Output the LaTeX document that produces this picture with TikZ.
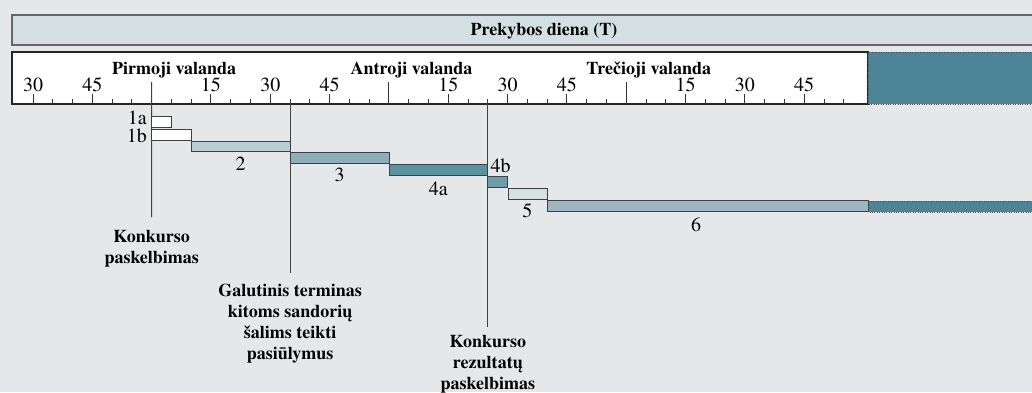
\documentclass[tikz,border=0pt]{standalone}
\usepackage{fontspec}
\setmainfont{texgyretermes}[Extension=.otf, UprightFont=*-regular, BoldFont=*-bold]
\newfontfamily\headfont{texgyretermes-bold.otf}
\usepackage{tikz}
\usetikzlibrary{positioning}

\definecolor{bggray}{HTML}{E6E7E9}
\definecolor{dayfill}{HTML}{D4DFE4}
\definecolor{tealdark}{HTML}{4B8597}
\definecolor{ctwo}{HTML}{B9CDD4}
\definecolor{cthree}{HTML}{8CAEB8}
\definecolor{cfoura}{HTML}{5B929F}
\definecolor{cfourb}{HTML}{6C9DAA}
\definecolor{cfive}{HTML}{D6E1E5}
\definecolor{csix}{HTML}{9EB6C1}

\begin{document}
\begin{tikzpicture}[x=1pt, y=-1pt,
  box/.style = {draw=black!85, line width=1.1pt},
  bar/.style = {draw=black!75, line width=1pt},
  ext/.style = {draw=black!70, dotted, fill=tealdark},
  tick/.style = {draw=black!80, line width=1pt},
  event/.style = {draw=black!75, line width=1pt},
  num/.style = {font=\fontsize{20}{24}\selectfont, inner sep=0pt, anchor=base},
  hour/.style = {font=\headfont\fontsize{18}{21}\selectfont, inner sep=0pt, anchor=base},
  note/.style = {font=\headfont\fontsize{18}{21}\selectfont, inner sep=0pt, anchor=north, align=center}]
\useasboundingbox[fill=bggray] (0,0) rectangle (1032,392);

% trading day band
\draw[fill=dayfill, draw=black!60, line width=1.3pt] (1040,15) -- (12,15) -- (12,45) -- (1040,45);
\node[hour] (day) at (544,35.5) {Prekybos diena (T)};

% time scale
\draw[box, fill=white] (12,52) rectangle (868,104);
\draw[ext] (868,52) rectangle (1040,104);
\foreach \m in {0,5,...,205}
  \draw[tick] ({33+3.955*\m},99) -- ({33+3.955*\m},104);
\foreach \m/\lab in {0/30,15/45,45/15,60/30,75/45,105/15,120/30,135/45,165/15,180/30,195/45} {
  \draw[tick] ({33+3.955*\m},94) -- ({33+3.955*\m},104);
  \node[num] (t\m) at ({33+3.955*\m},91.7) {\lab};
}
\foreach \m/\hname/\txt in {30/hone/Pirmoji valanda, 90/htwo/Antroji valanda, 150/hthree/Trečioji valanda} {
  \coordinate (\hname) at ({33+3.955*\m},82);
  \draw[tick] (\hname) -- ++(0,22);
  \node[hour] (\hname lab) at ({55.5+3.955*\m},74) {\txt};
}

% events
\coordinate (etwo) at (290.1,99);
\coordinate (ethree) at (487.8,99);
\node[note] (annone) at (151.7,229.7) {Konkurso\\paskelbimas};
\node[note] (anntwo) at (290.1,283.7) {Galutinis terminas\\kitoms sandorių\\šalims teikti\\pasiūlymus};
\node[note] (annthree) at (487.8,335.4) {Konkurso\\rezultatų\\paskelbimas};
\draw[event, shorten >=12.5pt] (hone) -- (annone.north);
\draw[event, shorten >=10.4pt] (etwo) -- (anntwo.north);
\draw[event, shorten >=8.7pt] (ethree) -- (annthree.north);

% steps
\draw[bar, fill=white] (151.7,116.7) rectangle (171.4,127.7);
\node[num, anchor=base east] (lonea) at (147,124) {1a};
\draw[bar, fill=white] (151.7,129.3) rectangle (191.2,140);
\node[num, anchor=base east] (loneb) at (147,142) {1b};
\draw[bar, fill=ctwo] (191.2,141) rectangle (290.1,151.7);
\node[num] (ltwo) at (240.6,170.7) {2};
\draw[bar, fill=cthree] (290.1,152.7) rectangle (389,163.3);
\node[num] (lthree) at (339.5,181.7) {3};
\draw[bar, fill=cfoura] (389,164.3) rectangle (487.8,175.7);
\node[num] (lfoura) at (438.4,195) {4a};
\draw[bar, fill=cfourb] (487.8,176.7) rectangle (507.6,187.7);
\node[num, anchor=base west] (lfourb) at (490.5,172) {4b};
\draw[bar, fill=cfive] (508.3,188.7) rectangle (547.2,199.3);
\node[num] (lfive) at (527.3,217.7) {5};
\draw[bar, fill=csix] (547.3,200.7) rectangle (868,211.7);
\draw[ext] (868.5,200.7) rectangle (1040,211.7);
\node[num] (lsix) at (696,231.7) {6};
\end{tikzpicture}
\end{document}
